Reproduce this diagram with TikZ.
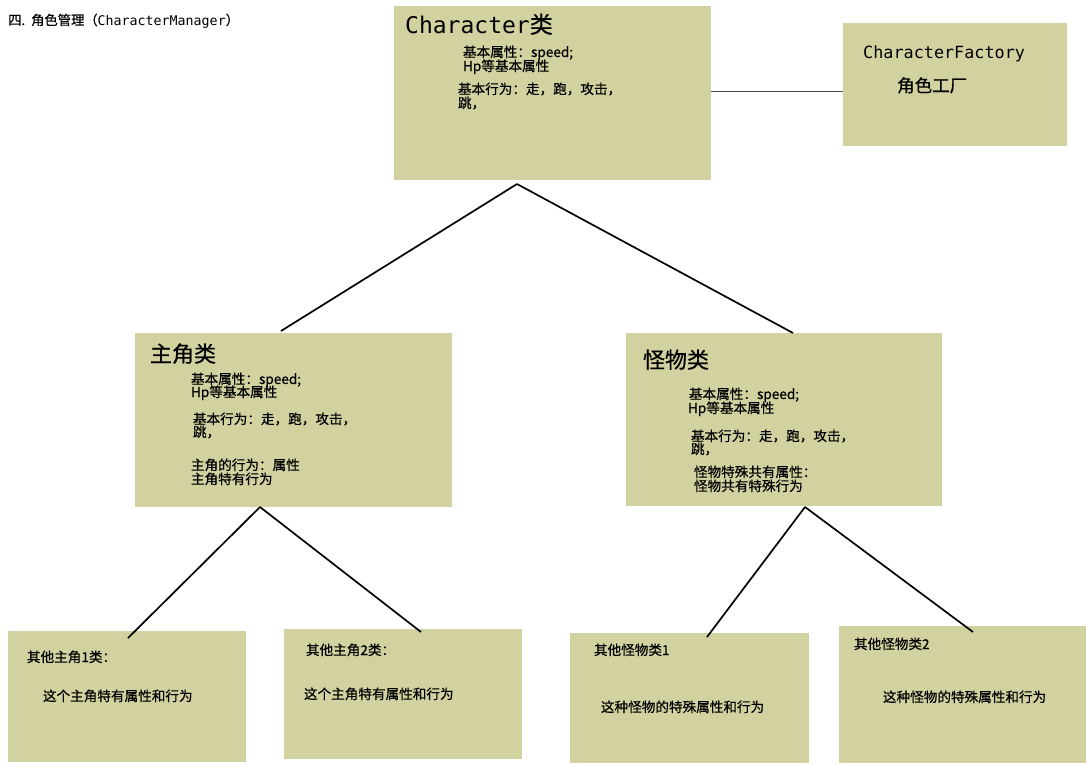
\documentclass[tikz,border=0pt]{standalone}
\usepackage{fontspec}
\setmainfont{Noto Sans CJK SC}[FakeBold=0.6]
\newfontfamily\monof{DejaVu Sans Mono}
\definecolor{boxfill}{HTML}{D2D2A0}
\begin{document}
\begin{tikzpicture}[x=1pt,y=-1pt,
  box/.style={fill=boxfill, draw=none, anchor=north west, inner sep=0pt, outer sep=0pt},
  txt/.style={anchor=base west, inner sep=0pt, outer sep=0pt, font=\fontsize{13.6}{15}\selectfont},
  big/.style={anchor=base west, inner sep=0pt, outer sep=0pt, font=\fontsize{22}{25}\selectfont},
  link/.style={line width=1.7pt, black},
  flink/.style={line width=0.8pt, black!70},
]
\useasboundingbox (0,0) rectangle (1086,763);
% boxes
\node[box, minimum width=317pt, minimum height=174pt] (char) at (394,6) {};
\node[box, minimum width=224pt, minimum height=123pt] (factory) at (843,23) {};
\node[box, minimum width=317pt, minimum height=174pt] (hero) at (135,333) {};
\node[box, minimum width=316pt, minimum height=173pt] (monster) at (626,333) {};
\node[box, minimum width=238pt, minimum height=131pt] (h1) at (8,631) {};
\node[box, minimum width=238pt, minimum height=130pt] (h2) at (284,629) {};
\node[box, minimum width=239pt, minimum height=130pt] (m1) at (570,633) {};
\node[box, minimum width=247pt, minimum height=137pt] (m2) at (839,626) {};
% title
\node[anchor=base west, inner sep=0pt, font=\fontsize{13.3}{15}\selectfont] (title) at (8,25) {四.\ \ 角色管理（{\monof CharacterManager}）};
% Character box
\node[anchor=base west, inner sep=0pt, font=\fontsize{23}{26}\selectfont] (ctitle) at (405,33) {{\monof Character}类};
\node[txt] (c1) at (463,57) {基本属性：speed;};
\node[txt] (c2) at (463,71) {Hp等基本属性};
\node[txt] (c3) at (458,94) {基本行为：走，跑，攻击，};
\node[txt] (c4) at (458,108) {跳，};
% Factory
\node[anchor=base west, inner sep=0pt, font=\fontsize{16.8}{19}\selectfont] (f1) at (863,58) {\monof CharacterFactory};
\node[anchor=base west, inner sep=0pt, font=\fontsize{17.5}{19}\selectfont] (f2) at (897,92) {角色工厂};
% hero box
\node[big] (htitle) at (150,362) {主角类};
\node[txt] (hx1) at (191,384) {基本属性：speed;};
\node[txt] (hx2) at (191,397) {Hp等基本属性};
\node[txt] (hx3) at (193,424) {基本行为：走，跑，攻击，};
\node[txt] (hx4) at (193,437) {跳，};
\node[txt] (hx5) at (191,470) {主角的行为：属性};
\node[txt] (hx6) at (191,484) {主角特有行为};
% monster box
\node[big] (mtitle) at (643,368) {怪物类};
\node[txt] (mx1) at (689,399) {基本属性：speed;};
\node[txt] (mx2) at (688,413) {Hp等基本属性};
\node[txt] (mx3) at (691,441) {基本行为：走，跑，攻击，};
\node[txt] (mx4) at (691,454) {跳，};
\node[txt] (mx5) at (694,477) {怪物特殊共有属性：};
\node[txt] (mx6) at (694,491) {怪物共有特殊行为};
% bottom boxes
\node[txt] (h1a) at (27,662) {其他主角1类：};
\node[txt] (h1b) at (43,701) {这个主角特有属性和行为};
\node[txt] (h2a) at (306,655) {其他主角2类：};
\node[txt] (h2b) at (304,699) {这个主角特有属性和行为};
\node[txt] (m1a) at (594,655) {其他怪物类1};
\node[txt] (m1b) at (601,712) {这种怪物的特殊属性和行为};
\node[txt] (m2a) at (854,649) {其他怪物类2};
\node[txt] (m2b) at (883,702) {这种怪物的特殊属性和行为};
% connector end points
\coordinate (cb) at (517,184);
\coordinate (ht) at (281,331);
\coordinate (mt) at (793,333);
\coordinate (hb) at (260,507);
\coordinate (h1t) at (128,638);
\coordinate (h2t) at (421,632);
\coordinate (mb) at (805,507);
\coordinate (m1t) at (707,637);
\coordinate (m2t) at (973,632);
% connectors
\draw[flink] (char.east |- 0,91) -- (factory.west |- 0,91);
\draw[link] (cb) -- (ht);
\draw[link] (cb) -- (mt);
\draw[link] (hb) -- (h1t);
\draw[link] (hb) -- (h2t);
\draw[link] (mb) -- (m1t);
\draw[link] (mb) -- (m2t);
\end{tikzpicture}
\end{document}
